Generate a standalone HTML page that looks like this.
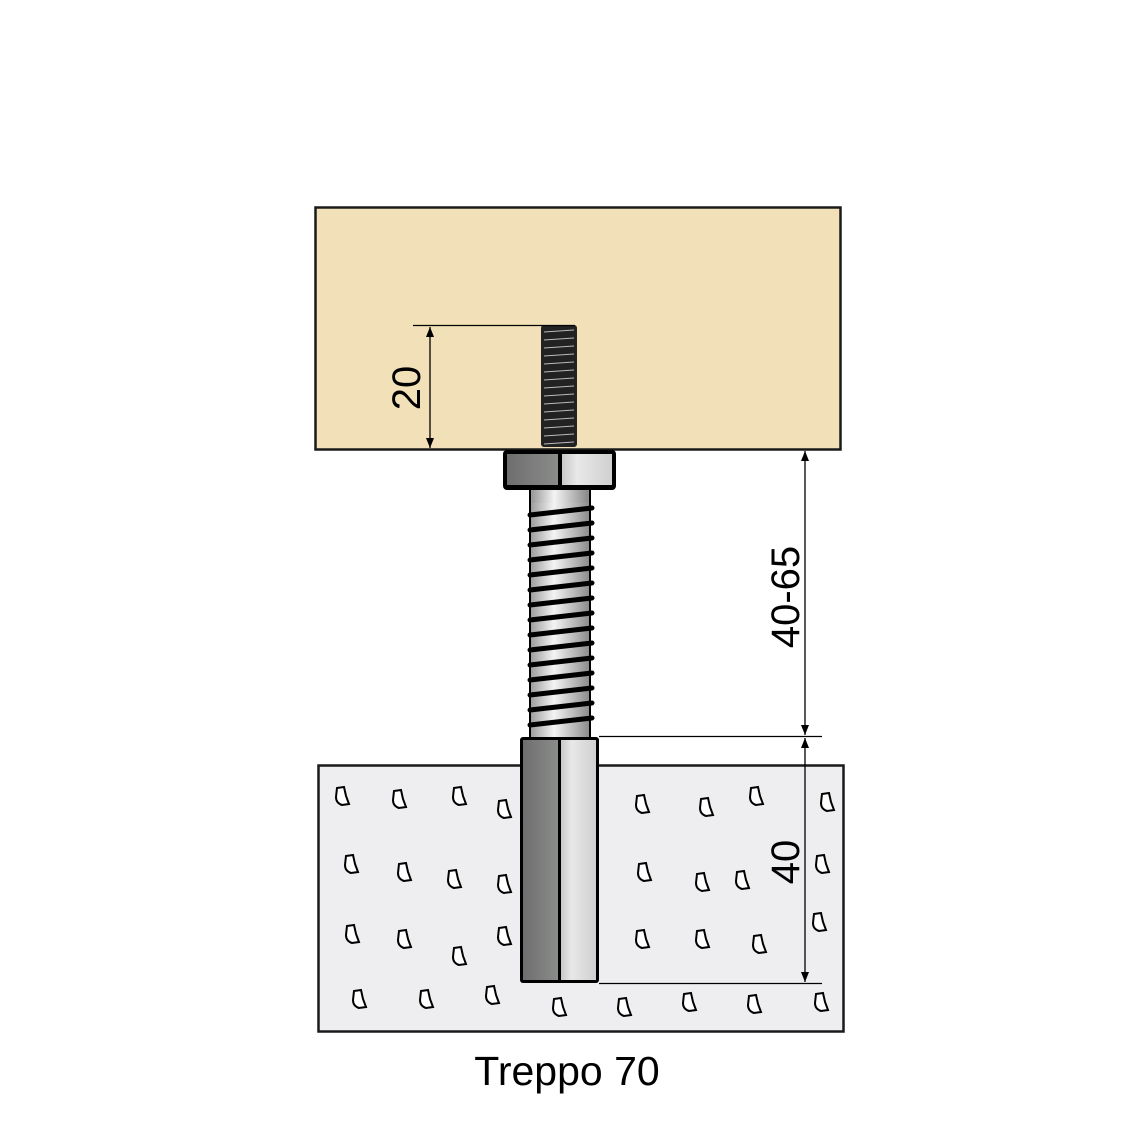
<!DOCTYPE html>
<html><head><meta charset="utf-8"><style>
html,body{margin:0;padding:0;background:#fff;}
svg{display:block;}
</style></head><body>
<svg width="1140" height="1140" viewBox="0 0 1140 1140" xmlns="http://www.w3.org/2000/svg">
<defs>
<linearGradient id="g1" x1="0" x2="1" y1="0" y2="0">
<stop offset="0" stop-color="#9a9a9a"/><stop offset="0.4" stop-color="#f4f4f4"/><stop offset="1" stop-color="#8a8a8a"/>
</linearGradient>
<linearGradient id="gl" x1="0" x2="1"><stop offset="0" stop-color="#6e6e6e"/><stop offset="1" stop-color="#8a8c8a"/></linearGradient>
<linearGradient id="gr" x1="0" x2="1"><stop offset="0" stop-color="#c8c8c8"/><stop offset="0.3" stop-color="#e8e8e8"/><stop offset="1" stop-color="#d0d0d0"/></linearGradient>
<path id="p" d="M-6,-9 L1,-10 L3,-1 L6,7 L-1,8 Q-7,6 -7,0 Z" fill="#fff" stroke="#000" stroke-width="2"/>
<marker id="ah" viewBox="0 0 10 10" refX="10" refY="5" markerWidth="10" markerHeight="10" orient="auto-start-reverse" markerUnits="userSpaceOnUse">
<path d="M0,1 L10,5 L0,9 Z" fill="#000"/></marker>
</defs>
<rect x="315.5" y="207.5" width="525" height="242" fill="#f2e0b8" stroke="#1a1a1a" stroke-width="2.5"/>
<rect x="318.5" y="765.5" width="525" height="266" fill="#eeeef0" stroke="#1a1a1a" stroke-width="2.5"/>
<g>
<use href="#p" x="343" y="797"/><use href="#p" x="400" y="800"/><use href="#p" x="460" y="797"/><use href="#p" x="505" y="810"/>
<use href="#p" x="643" y="805"/><use href="#p" x="707" y="808"/><use href="#p" x="757" y="797"/><use href="#p" x="828" y="803"/>
<use href="#p" x="352" y="865"/><use href="#p" x="405" y="873"/><use href="#p" x="455" y="880"/><use href="#p" x="505" y="885"/>
<use href="#p" x="645" y="873"/><use href="#p" x="703" y="883"/><use href="#p" x="743" y="881"/><use href="#p" x="823" y="865"/>
<use href="#p" x="353" y="935"/><use href="#p" x="405" y="940"/><use href="#p" x="460" y="957"/><use href="#p" x="505" y="937"/>
<use href="#p" x="643" y="940"/><use href="#p" x="703" y="940"/><use href="#p" x="760" y="945"/><use href="#p" x="820" y="923"/>
<use href="#p" x="360" y="1000"/><use href="#p" x="427" y="1000"/><use href="#p" x="493" y="996"/><use href="#p" x="560" y="1008"/>
<use href="#p" x="625" y="1008"/><use href="#p" x="690" y="1003"/><use href="#p" x="755" y="1005"/><use href="#p" x="822" y="1003"/>
</g>
<rect x="541" y="325" width="36" height="122" rx="3" fill="#222"/>
<g stroke="#bbb" stroke-width="1">
<line x1="544" y1="332" x2="574" y2="330"/><line x1="544" y1="340" x2="574" y2="338"/><line x1="544" y1="348" x2="574" y2="346"/><line x1="544" y1="356" x2="574" y2="354"/>
<line x1="544" y1="364" x2="574" y2="362"/><line x1="544" y1="372" x2="574" y2="370"/><line x1="544" y1="380" x2="574" y2="378"/><line x1="544" y1="388" x2="574" y2="386"/>
<line x1="544" y1="396" x2="574" y2="394"/><line x1="544" y1="404" x2="574" y2="402"/><line x1="544" y1="412" x2="574" y2="410"/><line x1="544" y1="420" x2="574" y2="418"/>
<line x1="544" y1="428" x2="574" y2="426"/><line x1="544" y1="436" x2="574" y2="434"/><line x1="544" y1="444" x2="574" y2="442"/>
</g>
<rect x="530" y="488" width="60" height="250" fill="url(#g1)" stroke="#000" stroke-width="2"/>
<g fill="none" stroke="#000" stroke-width="5" stroke-linecap="round">
<path d="M530,515 L592,508 M530,530 L592,523 M530,545 L592,538 M530,560 L592,553 M530,575 L592,568 M530,590 L592,583 M530,605 L592,598 M530,620 L592,613 M530,635 L592,628 M530,650 L592,643 M530,665 L592,658 M530,680 L592,673 M530,695 L592,688 M530,710 L592,703 M530,725 L592,718"/>
</g>
<rect x="532" y="489" width="56" height="14" fill="url(#g1)"/>
<rect x="503" y="450" width="113" height="40" rx="4" fill="#000"/>
<rect x="507" y="454" width="51" height="31" fill="url(#gl)"/>
<rect x="562" y="454" width="50" height="31" fill="url(#gr)"/>
<rect x="520" y="737" width="79" height="246" rx="3" fill="#000"/>
<rect x="523" y="740" width="35" height="240" fill="url(#gl)"/>
<rect x="561" y="740" width="35" height="240" fill="url(#gr)"/>
<g stroke="#000" stroke-width="1.3" fill="none">
<line x1="413" y1="325.5" x2="575" y2="325.5"/>
<line x1="430" y1="327" x2="430" y2="448" marker-start="url(#ah)" marker-end="url(#ah)"/>
<line x1="599" y1="736.5" x2="822" y2="736.5"/>
<line x1="599" y1="983.5" x2="822" y2="983.5"/>
<line x1="805" y1="451" x2="805" y2="735" marker-start="url(#ah)" marker-end="url(#ah)"/>
<line x1="805" y1="738" x2="805" y2="982" marker-start="url(#ah)" marker-end="url(#ah)"/>
</g>
<g font-family="Liberation Sans, sans-serif" font-size="40" fill="#000" text-anchor="middle">
<text transform="translate(420,388) rotate(-90)">20</text>
<text transform="translate(799,597) rotate(-90)">40-65</text>
<text transform="translate(799,862) rotate(-90)">40</text>
<text x="567" y="1085" font-size="41">Treppo 70</text>
</g>
</svg>
</body></html>
